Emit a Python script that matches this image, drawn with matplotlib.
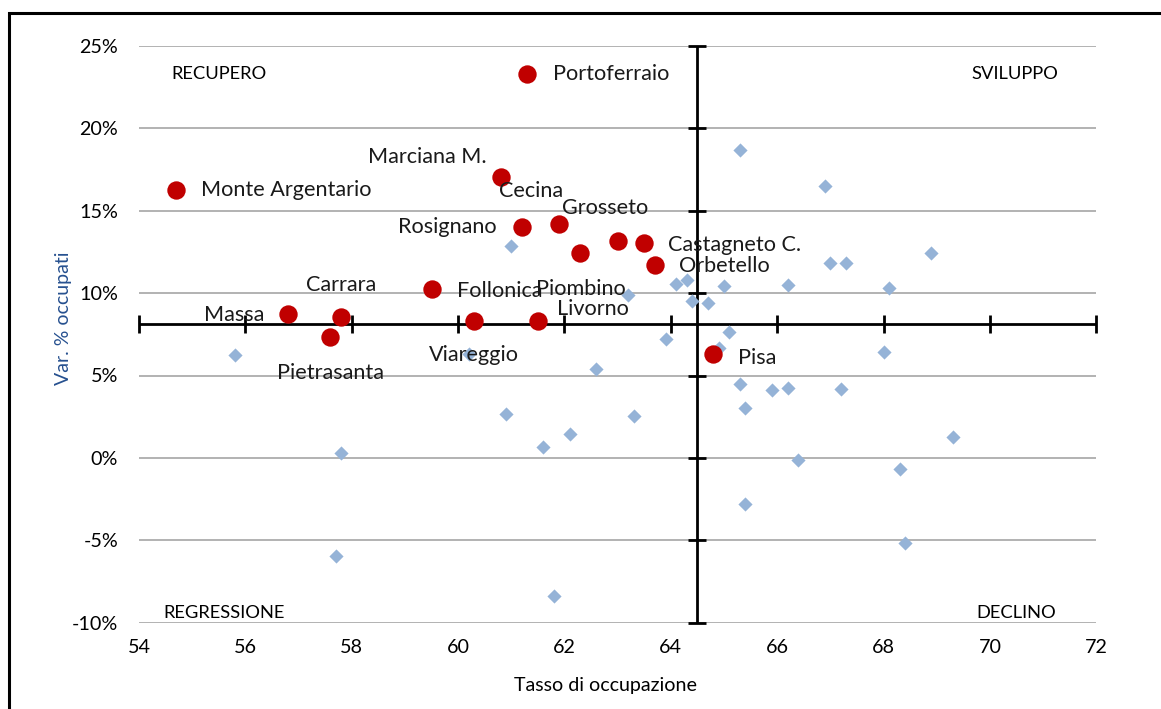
import numpy as np
import matplotlib.pyplot as plt
from matplotlib.patches import Rectangle

plt.rcParams['font.family'] = ['Lato', 'DejaVu Sans']

# other municipalities (blue diamonds)
blue_x = [55.8, 57.8, 57.7, 60.2, 60.9, 61.0, 61.6, 61.8, 62.1, 62.6,
          63.2, 63.3, 63.9, 64.1, 64.3, 64.4, 64.7, 64.9, 65.0, 65.1,
          65.3, 65.3, 65.4, 65.4, 65.9, 66.2, 66.2, 66.4, 66.9, 67.0,
          67.2, 67.3, 68.0, 68.1, 68.3, 68.4, 68.9, 69.3]
blue_y = [6.25, 0.27, -5.96, 6.33, 2.69, 12.85, 0.67, -8.35, 1.44, 5.42,
          9.87, 2.53, 7.24, 10.58, 10.82, 9.5, 9.4, 6.67, 10.42, 7.65,
          18.67, 4.51, 3.0, -2.81, 4.15, 4.25, 10.48, -0.14, 16.49, 11.83,
          4.19, 11.83, 6.43, 10.32, -0.70, -5.16, 12.46, 1.27]

# coastal municipalities (red circles)
red_names = ["Portoferraio", "Monte Argentario", "Marciana M.", "Rosignano",
             "Cecina", "Piombino", "Grosseto", "Castagneto C.", "Orbetello",
             "Follonica", "Massa", "Carrara", "Pietrasanta", "Viareggio",
             "Livorno", "Pisa"]
red_x = [61.3, 54.7, 60.8, 61.2, 61.9, 62.3, 63.0, 63.5, 63.7,
         59.5, 56.8, 57.8, 57.6, 60.3, 61.5, 64.8]
red_y = [23.3, 16.25, 17.05, 14.0, 14.22, 12.46, 13.19, 13.07, 11.73,
         10.22, 8.76, 8.52, 7.31, 8.31, 8.31, 6.33]

# label offsets in pixels (dx, dy, ha)
offsets = {
    "Portoferraio": (26, 0, "left"),
    "Monte Argentario": (25, 0, "left"),
    "Marciana M.": (-14, 20, "right"),
    "Rosignano": (-25, 0, "right"),
    "Cecina": (-28, 33, "center"),
    "Piombino": (0, -36, "center"),
    "Grosseto": (-13, 33, "center"),
    "Castagneto C.": (24, -2, "left"),
    "Orbetello": (24, -1, "left"),
    "Follonica": (25, -2, "left"),
    "Massa": (-54, -1, "center"),
    "Carrara": (0, 32, "center"),
    "Pietrasanta": (0, -36, "center"),
    "Viareggio": (0, -34, "center"),
    "Livorno": (55, 12, "center"),
    "Pisa": (25, -4, "left"),
}

x_cross = 64.5
y_cross = 8.1
x_ticks = np.arange(54, 73, 2)
y_ticks = np.arange(-10, 26, 5)

fig = plt.figure(figsize=(11.61, 7.09), dpi=100)
ax = fig.add_axes([139 / 1161, 1 - 622.7 / 709, (1096.3 - 139) / 1161, (622.7 - 45.9) / 709])
ax.set_xlim(54, 72)
ax.set_ylim(-10, 25)

for yv in y_ticks:
    ax.axhline(yv, color="#a6a6a6", lw=1.2, zorder=1)

for s in ax.spines.values():
    s.set_visible(False)
ax.set_xticks(x_ticks)
ax.set_yticks(y_ticks)
ax.set_yticklabels([f"{v}%" for v in y_ticks])
ax.tick_params(length=0, labelsize=14.2, pad=15)
ax.tick_params(axis="x", pad=12)

# crossing axes with tick marks
ax.axvline(x_cross, color="black", lw=2, zorder=2)
ax.axhline(y_cross, color="black", lw=2, zorder=2)
ax.plot(x_ticks, [y_cross] * len(x_ticks), ls="none", marker="|", ms=13,
        mew=2, color="black", zorder=2, clip_on=False)
ax.plot([x_cross] * len(y_ticks), y_ticks, ls="none", marker="_", ms=13,
        mew=2, color="black", zorder=2, clip_on=False)

ax.scatter(blue_x, blue_y, marker="D", s=52, color="#95b3d7", zorder=3, linewidths=0)
ax.scatter(red_x, red_y, marker="o", s=175, color="#c00000", zorder=4, linewidths=0)

for name, xv, yv in zip(red_names, red_x, red_y):
    dx, dy, ha = offsets[name]
    ax.annotate(name, (xv, yv), xytext=(dx * 0.72, dy * 0.72), textcoords="offset points",
                ha=ha, va="center", fontsize=15.6, color="#1a1a1a", zorder=5)

# quadrant names
ax.text(54.6, 23.3, "RECUPERO", fontsize=13.2, va="center", ha="left")
ax.text(70.46, 23.3, "SVILUPPO", fontsize=13.2, va="center", ha="center")
ax.text(54.45, -9.4, "REGRESSIONE", fontsize=13.2, va="center", ha="left")
ax.text(70.5, -9.4, "DECLINO", fontsize=13.2, va="center", ha="center")

fig.text(605 / 1161, 1 - 685 / 709, "Tasso di occupazione", fontsize=14.1,
         ha="center", va="center")
fig.text(63 / 1161, 1 - 318 / 709, "Var. % occupati", fontsize=14, rotation=90,
         ha="center", va="center", color="#26508f")

# frame around the chart (top and left visible)
fig.patches.append(Rectangle((9 / 1161, -0.1), 1.2, 1 - 13 / 709 + 0.1,
                             transform=fig.transFigure, fill=False,
                             edgecolor="black", lw=2.2))

fig.savefig("out.png", dpi=100)
